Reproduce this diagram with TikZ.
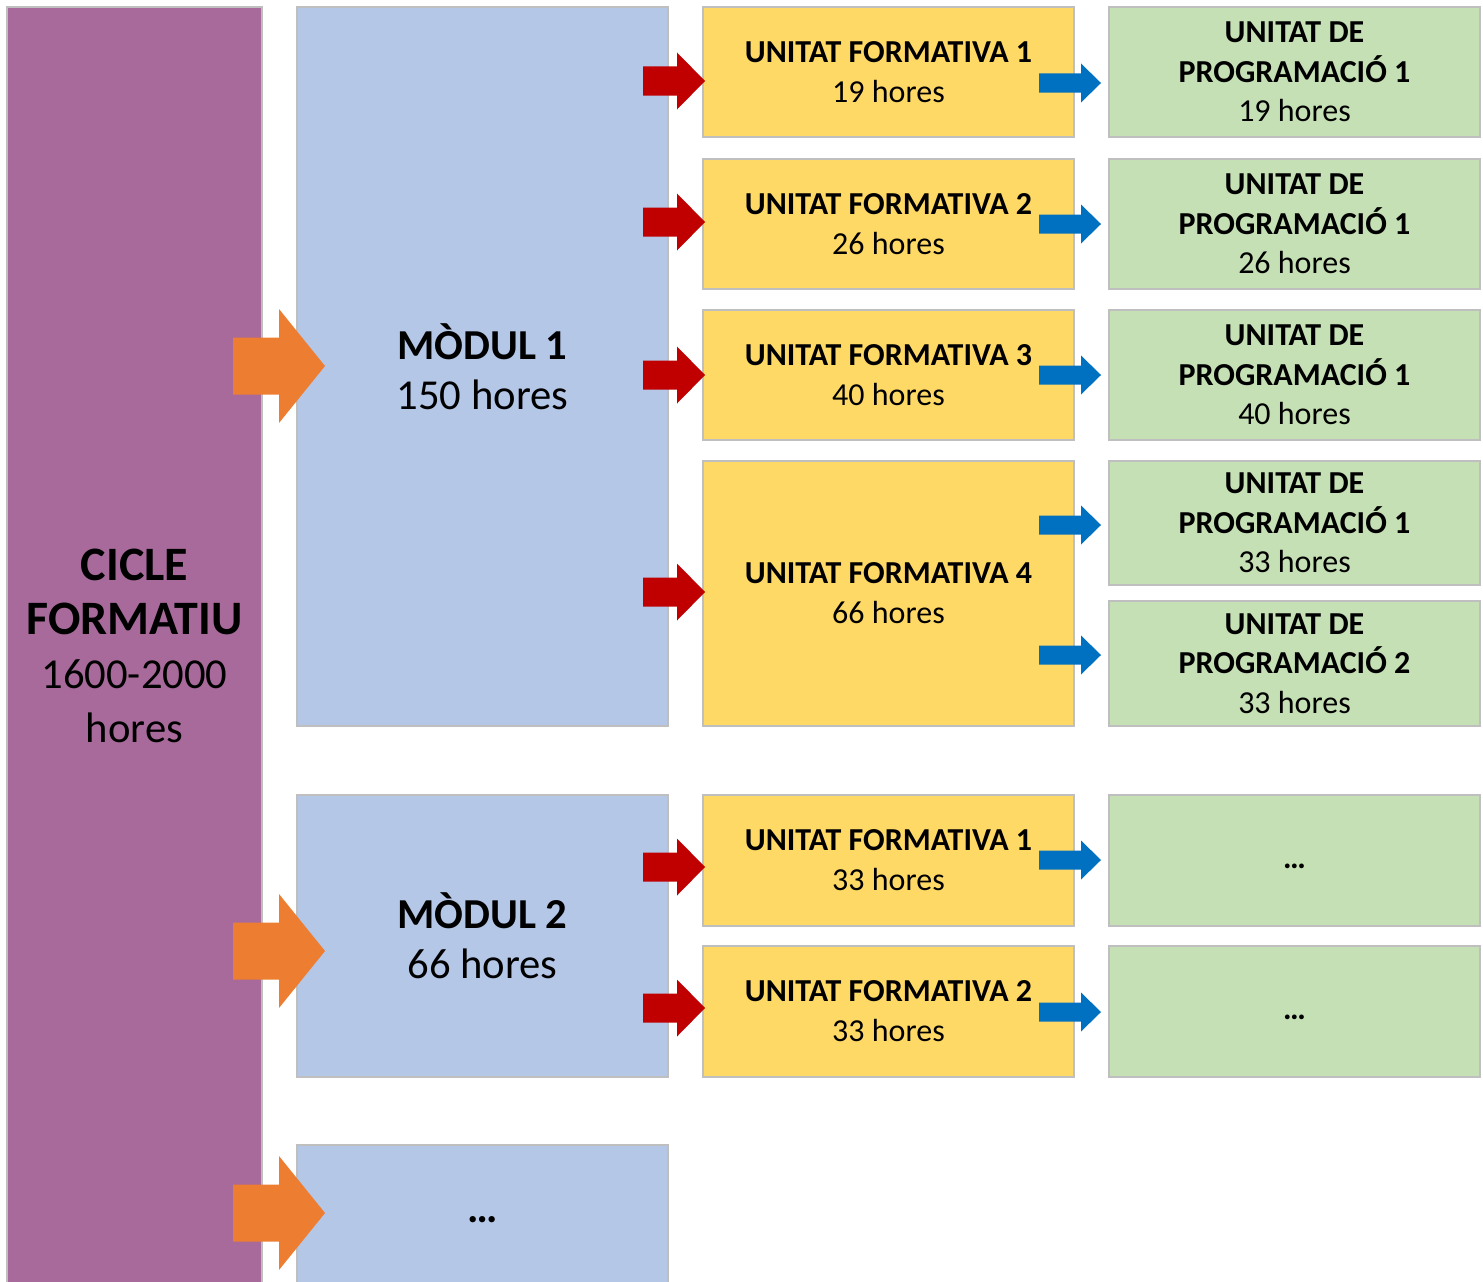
\documentclass[tikz,border=0pt]{standalone}
\usepackage{fontspec}
\setmainfont{Carlito}
\definecolor{ciclec}{HTML}{A86A9B}
\definecolor{modulc}{HTML}{B4C7E7}
\definecolor{ufc}{HTML}{FFD966}
\definecolor{upc}{HTML}{C5E0B4}
\definecolor{edgec}{HTML}{BFBFBF}
\definecolor{orangec}{HTML}{ED7D31}
\definecolor{redc}{HTML}{C00000}
\definecolor{bluec}{HTML}{0070C0}
\newcommand\mybox[7]{%
  \node[box,#2,minimum width={(#5-#3)*0.75pt},minimum height={(#6-#4)*0.75pt}]
    (#1) at ({(#3+#5)/2},{(#4+#6)/2}) {#7};}
\newcommand\bigb[1]{{\fontsize{36}{40.5}\selectfont\bfseries #1}}
\begin{document}
\begin{tikzpicture}[x=0.75pt,y=-0.75pt,
  box/.style={draw=edgec,line width=2.2pt,inner sep=0pt,align=center,text=black},
  ciclebox/.style={fill=ciclec,font=\fontsize{32}{40.5}\selectfont},
  modulbox/.style={fill=modulc,font=\fontsize{32}{37.5}\selectfont},
  ufbox/.style={fill=ufc,font=\fontsize{24}{30}\selectfont},
  upbox/.style={fill=upc,font=\fontsize{24}{29.6}\selectfont},
  orangearrow/.pic={\fill[orangec] (-92,-28.5) -- (-46,-28.5) -- (-46,-57) -- (0,0) -- (-46,57) -- (-46,28.5) -- (-92,28.5) -- cycle;},
  redarrow/.pic={\fill[redc] (-62,-14.5) -- (-28,-14.5) -- (-28,-28.5) -- (0,0) -- (-28,28.5) -- (-28,14.5) -- (-62,14.5) -- cycle;},
  bluearrow/.pic={\fill[bluec] (-62,-9.5) -- (-20,-9.5) -- (-20,-19.5) -- (0,0) -- (-20,19.5) -- (-20,9.5) -- (-62,9.5) -- cycle;}
]
\useasboundingbox (0,0) rectangle (1483,1281);

\mybox{cicle}{ciclebox}{7}{7}{262}{1285}{\bigb{CICLE}\\\bigb{FORMATIU}\\1600-2000\\hores}

\mybox{m1}{modulbox}{297}{7}{668}{726}{\textbf{MÒDUL 1}\\150 hores}
\mybox{m2}{modulbox}{297}{795}{668}{1077}{\textbf{MÒDUL 2}\\66 hores}
\mybox{m3}{modulbox}{297}{1145}{668}{1295}{\textbf{…}}

\mybox{uf1}{ufbox}{703}{7}{1074}{137}{\textbf{UNITAT FORMATIVA 1}\\19 hores}
\mybox{uf2}{ufbox}{703}{159}{1074}{289}{\textbf{UNITAT FORMATIVA 2}\\26 hores}
\mybox{uf3}{ufbox}{703}{310}{1074}{440}{\textbf{UNITAT FORMATIVA 3}\\40 hores}
\mybox{uf4}{ufbox}{703}{461}{1074}{726}{\textbf{UNITAT FORMATIVA 4}\\66 hores}
\mybox{uf5}{ufbox}{703}{795}{1074}{926}{\textbf{UNITAT FORMATIVA 1}\\33 hores}
\mybox{uf6}{ufbox}{703}{946}{1074}{1077}{\textbf{UNITAT FORMATIVA 2}\\33 hores}

\mybox{up1}{upbox}{1109}{7}{1480}{137}{\textbf{UNITAT DE}\\\textbf{PROGRAMACIÓ 1}\\19 hores}
\mybox{up2}{upbox}{1109}{159}{1480}{289}{\textbf{UNITAT DE}\\\textbf{PROGRAMACIÓ 1}\\26 hores}
\mybox{up3}{upbox}{1109}{310}{1480}{440}{\textbf{UNITAT DE}\\\textbf{PROGRAMACIÓ 1}\\40 hores}
\mybox{up4}{upbox}{1109}{461}{1480}{585}{\textbf{UNITAT DE}\\\textbf{PROGRAMACIÓ 1}\\33 hores}
\mybox{up5}{upbox}{1109}{601}{1480}{726}{\textbf{UNITAT DE}\\\textbf{PROGRAMACIÓ 2}\\33 hores}
\mybox{up6}{upbox}{1109}{795}{1480}{926}{\strut\textbf{…}}
\mybox{up7}{upbox}{1109}{946}{1480}{1077}{\strut\textbf{…}}

\pic at (325,366) {orangearrow};
\pic at (325,951) {orangearrow};
\pic at (325,1213) {orangearrow};

\pic at (705,81) {redarrow};
\pic at (705,222) {redarrow};
\pic at (705,375) {redarrow};
\pic at (705,592) {redarrow};
\pic at (705,867) {redarrow};
\pic at (705,1008) {redarrow};

\pic at (1101,83) {bluearrow};
\pic at (1101,224) {bluearrow};
\pic at (1101,375) {bluearrow};
\pic at (1101,525) {bluearrow};
\pic at (1101,655) {bluearrow};
\pic at (1101,860) {bluearrow};
\pic at (1101,1012) {bluearrow};
\end{tikzpicture}
\end{document}
